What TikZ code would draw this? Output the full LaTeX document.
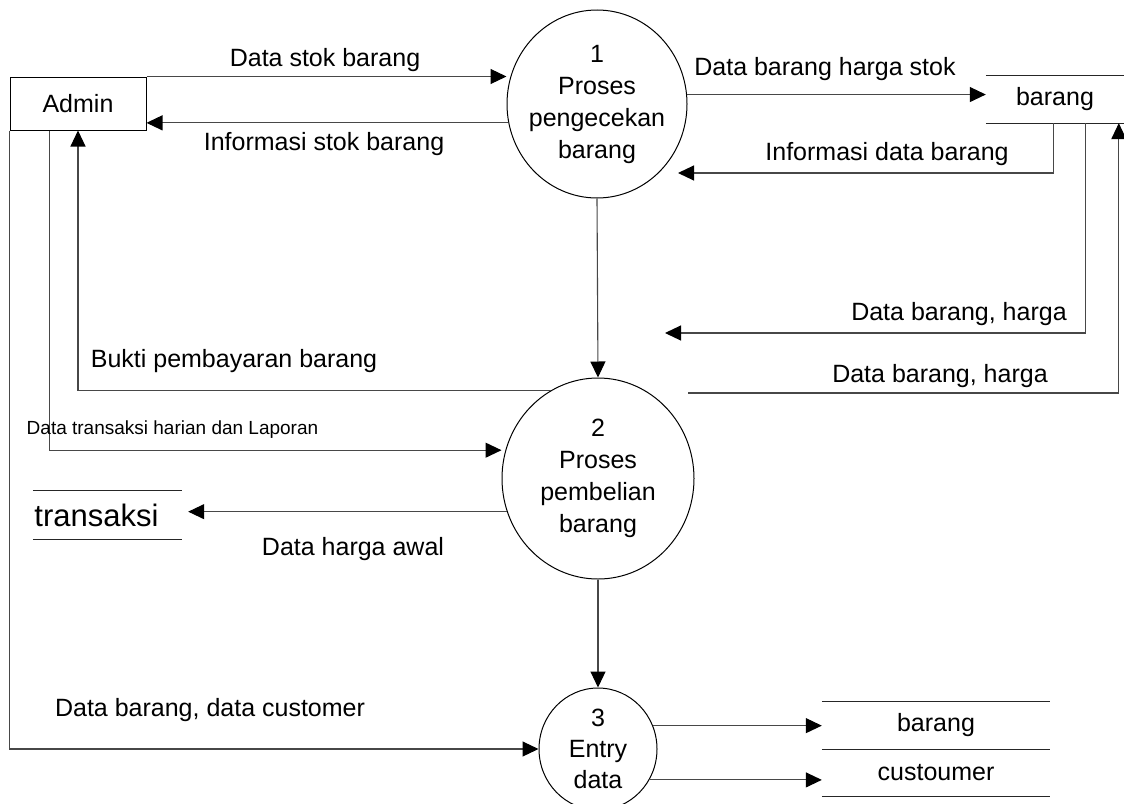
\documentclass[tikz,border=0pt]{standalone}
\usepackage{fontspec}
\setmainfont{Liberation Sans}
\usetikzlibrary{arrows.meta,shapes.geometric,calc}
\begin{document}
\begin{tikzpicture}[x=1pt,y=-1pt,
  every node/.style={font=\fontsize{25pt}{32pt}\selectfont},
  lbl/.style={anchor=base, inner sep=0pt},
  small/.style={font=\fontsize{19pt}{22pt}\selectfont},
  proc/.style={draw=black, line width=1pt, ellipse, inner sep=0pt},
  ptext/.style={align=center, inner sep=0pt},
  entity/.style={draw=black, line width=1pt, rectangle, inner sep=0pt,
                 minimum width=136pt, minimum height=53pt},
  store/.style={inner sep=0pt, minimum height=47pt},
  storeline/.style={line width=1.1pt, draw=black!85},
  flow/.style={line width=1.1pt, draw=black!72,
               -{Triangle[length=16pt,width=15pt,color=black]}}]
\clip (0,0) rectangle (1124,803);
\fill[white] (0,0) rectangle (1124,803);

% external entity
\node[entity] (adm) at (78,103.5) {Admin};

% processes
\node[proc, minimum width=180pt, minimum height=188pt,
      label={[ptext]center:{1\\Proses\\pengecekan\\barang}}] (c1) at (597,104) {};
\node[proc, minimum width=192pt, minimum height=201pt,
      label={[ptext]center:{2\\Proses\\pembelian\\barang}}] (c2) at (598,478.5) {};
\node[proc, minimum width=118pt, minimum height=122pt,
      label={[ptext, font=\fontsize{25pt}{31pt}\selectfont]center:{3\\Entry\\data}}] (c3) at (598,749) {};

% data stores
\node[store, minimum width=138pt] (sb1) at (1055,99.5) {barang};
\node[store, minimum width=228pt] (sb2) at (936,725.5) {barang};
\node[store, minimum width=228pt] (sc) at (936,772.5) {custoumer};
\node[store, minimum width=149pt, minimum height=48pt,
      font=\fontsize{31pt}{36pt}\selectfont] (ts) at (107.5,515) {transaksi\hspace*{22pt}};

\draw[storeline] (sb1.north west) -- (sb1.north east) (sb1.south west) -- (sb1.south east);
\draw[storeline] (sb2.north west) -- (sb2.north east) (sb2.south west) -- (sb2.south east);
\draw[storeline] (sc.south west) -- (sc.south east);
\draw[storeline] (ts.north west) -- (ts.north east) (ts.south west) -- (ts.south east);

% free ends of flows
\coordinate (t1) at (678,173);
\coordinate (t2) at (665,333);
\coordinate (s3) at (688,393);

% data flows
\draw[flow] (adm.north east) -- (adm.north east -| c1.west);
\draw[flow] (c1.192) -- (c1.192 -| adm.east);
\draw[flow] (c1.6) -- (c1.6 -| sb1.west);
\draw[flow] ($(sb1.south west)+(68,0)$) |- (t1);
\draw[flow] ($(sb1.south west)+(100,0)$) |- (t2);
\draw[flow] (s3) -| ($(sb1.south west)+(133,0)$);
\draw[flow] (c1.south) -- (c2.north);
\draw[flow] (c2.118) -| (adm.south);
\draw[flow] ($(adm.south west)+(40,0)$) |- (c2.west |- c2.163);
\draw[flow, shorten >=6pt] (c2.200) -- (c2.200 -| ts.east);
\draw[flow] (c2.south) -- (c3.north);
\draw[flow] (adm.south west) |- (c3.west);
\draw[flow] (c3.23) -- (c3.23 -| sb2.west);
\draw[flow] (c3.329) -- (c3.329 -| sc.west);

% flow labels
\node[lbl] (l1) at (325,66) {Data stok barang};
\node[lbl] (l2) at (324,150) {Informasi stok barang};
\node[lbl] (l3) at (825,75) {Data barang harga stok};
\node[lbl] (l4) at (887,160) {Informasi data barang};
\node[lbl] (l5) at (959,320) {Data barang, harga};
\node[lbl] (l6) at (940,382) {Data barang, harga};
\node[lbl] (l7) at (234,367) {Bukti pembayaran barang};
\node[lbl, small] (l8) at (172.5,434) {Data transaksi harian dan Laporan};
\node[lbl] (l9) at (353,555) {Data harga awal};
\node[lbl] (l10) at (210,716) {Data barang, data customer};
\end{tikzpicture}
\end{document}
